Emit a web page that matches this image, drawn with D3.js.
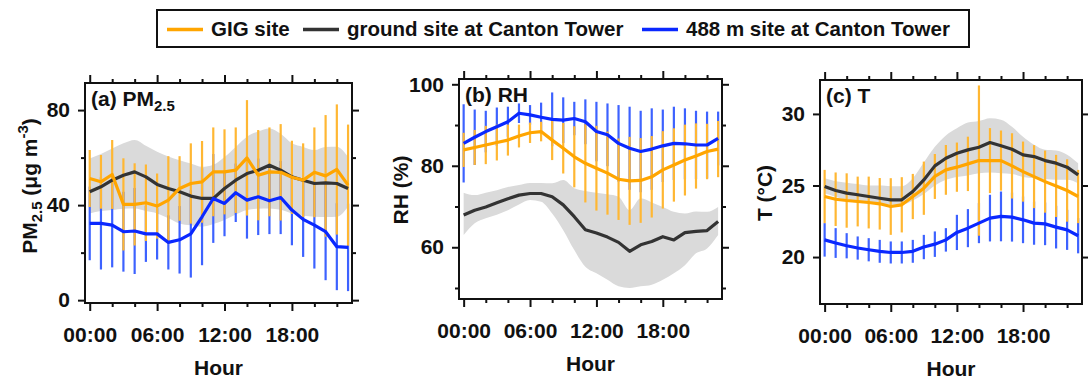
<!DOCTYPE html>
<html>
<head>
<meta charset="utf-8">
<script src="https://cdn.jsdelivr.net/npm/d3@7"></script>
<style>
  body { margin: 0; background: #fff; }
  svg { display: block; font-family: "Liberation Sans", Arial, sans-serif; font-weight: bold; }
</style>
</head>
<body>
<svg id="chart" width="1088" height="381"></svg>
<script>
const hours = d3.range(24);
const hourTicks = [0, 6, 12, 18];
const hourLabels = ["00:00", "06:00", "12:00", "18:00"];
const seriesNames = ["GIG site", "ground site at Canton Tower", "488 m site at Canton Tower"];

// (a) PM2.5
const pmGig = [51.2, 49.8, 52.9, 40.3, 40.3, 41.0, 39.6, 42.1, 47.0, 49.1, 49.8, 54.0, 54.0, 54.7, 59.9, 52.6, 54.0, 53.8, 51.7, 50.5, 53.8, 52.3, 55.0, 48.4];
const pmGigSd = [12.0, 11.3, 14.5, 19.4, 17.3, 16.1, 13.7, 18.5, 13.6, 16.9, 17.2, 18.7, 17.9, 18.0, 24.3, 19.0, 18.7, 20.3, 15.4, 15.5, 18.9, 25.6, 27.4, 25.5];
const pmGround = [45.6, 47.7, 50.5, 52.6, 54.0, 51.9, 48.7, 47.0, 45.6, 43.8, 42.8, 42.8, 47.0, 50.5, 53.3, 54.7, 56.8, 54.7, 51.9, 50.5, 49.1, 49.4, 49.1, 47.0];
const pmGroundLo = [36.5, 37.5, 37.9, 38.5, 38.6, 37.5, 36.5, 34.5, 32.3, 31.5, 30.9, 32.0, 33.7, 36.0, 37.9, 38.5, 38.6, 38.0, 36.5, 35.5, 35.1, 35.0, 35.1, 39.3];
const pmGroundHi = [59.6, 61.5, 63.8, 66.0, 67.4, 65.0, 62.5, 60.5, 58.9, 57.5, 56.1, 57.0, 60.3, 64.5, 68.8, 71.0, 72.3, 70.0, 66.0, 64.5, 63.2, 64.5, 64.6, 60.3];
const pmTower = [32.3, 32.3, 31.6, 28.8, 29.1, 27.9, 27.9, 24.3, 25.4, 27.9, 35.1, 42.8, 40.7, 45.2, 42.1, 43.5, 41.8, 43.2, 37.9, 34.0, 31.6, 28.8, 22.5, 22.2];
const pmTowerSd = [15.5, 19.4, 17.8, 16.8, 18.1, 11.8, 10.8, 11.4, 14.2, 18.4, 20.4, 18.7, 13.8, 12.3, 16.2, 16.1, 14.0, 15.4, 14.8, 15.8, 18.3, 20.4, 18.3, 18.4];

// (b) RH
const rhGig = [83.9, 84.5, 85.1, 85.7, 86.3, 87.3, 88.1, 88.4, 86.3, 84.3, 82.2, 80.6, 79.4, 78.2, 76.7, 76.3, 76.4, 77.3, 79.0, 80.2, 81.4, 82.4, 83.5, 84.1];
const rhGigSd = [4.2, 4.3, 4.7, 4.4, 3.8, 2.8, 2.5, 2.4, 4.9, 6.2, 7.5, 9.6, 10.4, 10.2, 10.0, 10.8, 10.4, 10.0, 9.5, 9.0, 8.7, 8.0, 6.8, 6.9];
const rhGround = [67.9, 69.1, 69.9, 70.9, 71.9, 72.8, 73.2, 73.2, 72.4, 70.4, 67.5, 64.3, 63.5, 62.5, 61.2, 59.0, 60.6, 61.4, 62.6, 61.8, 63.6, 63.9, 64.1, 66.3];
const rhGroundLo = [63.0, 65.9, 67.1, 68.0, 69.1, 70.5, 71.6, 71.2, 68.3, 64.2, 59.3, 55.2, 53.6, 52.0, 50.4, 50.0, 50.4, 50.8, 52.0, 53.6, 55.6, 58.5, 59.7, 63.0];
const rhGroundHi = [73.4, 72.8, 73.4, 74.0, 74.8, 75.3, 75.8, 75.8, 75.7, 76.5, 74.5, 73.8, 73.4, 73.0, 72.4, 69.1, 72.0, 71.0, 69.9, 68.7, 68.3, 68.8, 68.7, 69.9];
const rhTower = [85.5, 87.0, 88.4, 89.6, 90.8, 92.9, 92.5, 91.9, 91.4, 91.2, 91.6, 90.8, 88.4, 87.6, 85.5, 84.3, 83.5, 84.1, 84.9, 85.5, 85.4, 85.1, 85.1, 86.7];
const rhTowerSd = [9.6, 6.8, 5.1, 4.7, 3.7, 2.4, 2.4, 3.6, 6.6, 5.6, 4.1, 5.5, 7.3, 7.7, 9.4, 10.2, 10.0, 10.0, 8.9, 9.0, 8.7, 8.4, 8.2, 6.6];

// (c) T
const tGig = [24.23, 24.04, 23.95, 23.88, 23.81, 23.72, 23.53, 23.65, 24.23, 24.81, 25.63, 26.09, 26.28, 26.51, 26.74, 26.74, 26.74, 26.37, 25.97, 25.62, 25.27, 24.97, 24.65, 24.23];
const tGigSd = [1.86, 1.87, 1.9, 1.74, 1.81, 1.8, 1.98, 1.93, 1.58, 1.86, 1.57, 1.74, 1.72, 1.9, 5.25, 2.27, 2.1, 2.28, 2.1, 2.2, 2.17, 2.17, 2.18, 1.86];
const tGround = [24.93, 24.65, 24.47, 24.35, 24.23, 24.11, 24.0, 24.0, 24.58, 25.39, 26.37, 26.9, 27.25, 27.49, 27.67, 28.0, 27.77, 27.53, 27.14, 27.02, 26.74, 26.56, 26.28, 25.74];
const tGroundLo = [24.45, 24.2, 24.0, 23.9, 23.8, 23.7, 23.65, 23.65, 23.95, 24.4, 25.0, 25.4, 25.6, 25.7, 25.85, 25.9, 25.85, 25.8, 25.6, 25.5, 25.45, 25.4, 25.4, 25.15];
const tGroundHi = [25.5, 25.3, 25.2, 25.1, 25.0, 25.0, 24.95, 24.95, 25.5, 26.6, 27.7, 28.5, 29.0, 29.4, 29.5, 29.7, 29.6, 29.1, 28.4, 27.85, 27.5, 27.45, 27.15, 26.55];
const tTower = [21.2, 20.98, 20.79, 20.63, 20.51, 20.4, 20.32, 20.32, 20.4, 20.7, 20.9, 21.2, 21.72, 22.02, 22.37, 22.72, 22.84, 22.79, 22.6, 22.37, 22.32, 22.09, 21.9, 21.49];
const tTowerSd = [1.17, 1.04, 0.88, 0.81, 0.81, 0.8, 0.77, 0.77, 0.8, 0.85, 0.89, 0.82, 1.23, 1.33, 1.4, 1.63, 1.74, 1.71, 1.63, 1.51, 1.49, 1.49, 1.4, 1.23];

const colors = { gig: "#ffa500", ground: "#333333", tower: "#0a28ff" };
const barColors = { gig: "#ffb733", tower: "#3d62ff" };
const fontSize = 21;

const svg = d3.select("#chart");

const panels = [
  {
    title: "(a) PM", titleSub: "2.5",
    frame: { x0: 85, x1: 352, y0: 83, y1: 303 },
    yDomain: [-1.2, 91.4], yMajor: [0, 40, 80], yMinor: [20, 60],
    gig: pmGig, gigSd: pmGigSd, ground: pmGround, lo: pmGroundLo, hi: pmGroundHi, tower: pmTower, towerSd: pmTowerSd,
    ylabel: "pm", ylabelX: 37, ylabelDy: -7
  },
  {
    title: "(b) RH",
    frame: { x0: 459, x1: 722, y0: 79, y1: 299 },
    yDomain: [47.3, 101.3], yMajor: [60, 80, 100], yMinor: [50, 70, 90],
    gig: rhGig, gigSd: rhGigSd, ground: rhGround, lo: rhGroundLo, hi: rhGroundHi, tower: rhTower, towerSd: rhTowerSd,
    ylabel: "RH (%)", ylabelX: 408, ylabelDy: 1
  },
  {
    title: "(c) T",
    frame: { x0: 820, x1: 1082, y0: 80, y1: 304 },
    yDomain: [16.72, 32.37], yMajor: [20, 25, 30], yMinor: [],
    gig: tGig, gigSd: tGigSd, ground: tGround, lo: tGroundLo, hi: tGroundHi, tower: tTower, towerSd: tTowerSd,
    ylabel: "T (°C)", ylabelX: 772, ylabelDy: 1
  }
];

panels.forEach(drawPanel);
drawLegend();

function drawPanel(p) {
  const f = p.frame;
  const x = d3.scaleLinear().domain([-0.42, 23.35]).range([f.x0, f.x1]);
  const y = d3.scaleLinear().domain(p.yDomain).range([f.y1, f.y0]);
  const g = svg.append("g");

  const clipId = "clip" + f.x0;
  g.append("clipPath").attr("id", clipId)
    .append("rect").attr("x", f.x0).attr("y", f.y0)
    .attr("width", f.x1 - f.x0).attr("height", f.y1 - f.y0);
  const plot = g.append("g").attr("clip-path", `url(#${clipId})`);

  // ground site band
  const area = d3.area()
    .x(h => x(h))
    .y0(h => y(p.lo[h]))
    .y1(h => y(p.hi[h]))
    .curve(d3.curveMonotoneX);
  plot.append("path").datum(hours).attr("d", area).attr("fill", "#dadada");

  // error bars: tower below GIG
  [["tower", p.tower, p.towerSd], ["gig", p.gig, p.gigSd]].forEach(([key, vals, sd]) => {
    plot.append("g").selectAll("line")
      .data(hours)
      .join("line")
      .attr("x1", h => x(h)).attr("x2", h => x(h))
      .attr("y1", h => y(vals[h] - sd[h]))
      .attr("y2", h => y(vals[h] + sd[h]))
      .attr("stroke", barColors[key])
      .attr("stroke-width", 2.2);
  });

  const line = vals => d3.line().x(h => x(h)).y(h => y(vals[h]))(hours);
  [["ground", p.ground], ["gig", p.gig], ["tower", p.tower]].forEach(([key, vals]) => {
    plot.append("path")
      .attr("d", line(vals))
      .attr("fill", "none")
      .attr("stroke", colors[key])
      .attr("stroke-width", 3.2)
      .attr("stroke-linejoin", "round");
  });

  // frame
  g.append("rect")
    .attr("x", f.x0).attr("y", f.y0)
    .attr("width", f.x1 - f.x0).attr("height", f.y1 - f.y0)
    .attr("fill", "none").attr("stroke", "#111").attr("stroke-width", 2);

  // axes
  const minorHours = d3.range(0, 24, 2).filter(h => !hourTicks.includes(h));
  const axes = [
    [d3.axisBottom(x).tickValues(hourTicks).tickSize(8).tickFormat((d, i) => hourLabels[i]), `translate(0,${f.y1})`, "bottom"],
    [d3.axisBottom(x).tickValues(minorHours).tickSize(4).tickFormat(""), `translate(0,${f.y1})`, ""],
    [d3.axisTop(x).tickValues(hourTicks).tickSize(8).tickFormat(""), `translate(0,${f.y0})`, ""],
    [d3.axisTop(x).tickValues(minorHours).tickSize(4).tickFormat(""), `translate(0,${f.y0})`, ""],
    [d3.axisLeft(y).tickValues(p.yMajor).tickSize(7).tickPadding(8), `translate(${f.x0},0)`, "left"],
    [d3.axisLeft(y).tickValues(p.yMinor).tickSize(4).tickFormat(""), `translate(${f.x0},0)`, ""],
    [d3.axisRight(y).tickValues(p.yMajor).tickSize(7).tickFormat(""), `translate(${f.x1},0)`, ""],
    [d3.axisRight(y).tickValues(p.yMinor).tickSize(4).tickFormat(""), `translate(${f.x1},0)`, ""]
  ];
  axes.forEach(([axis, tr, side]) => {
    const a = g.append("g").attr("transform", tr).call(axis);
    a.select(".domain").remove();
    a.selectAll(".tick line").attr("stroke", "#111").attr("stroke-width", 2);
    a.selectAll("text")
      .attr("font-family", "'Liberation Sans', Arial, sans-serif")
      .attr("font-weight", "bold")
      .attr("font-size", fontSize)
      .attr("fill", "#111");
    if (side === "bottom") a.selectAll("text").attr("dy", null).attr("y", 39);
  });

  // x label
  g.append("text")
    .attr("x", (f.x0 + f.x1) / 2).attr("y", f.y1 + 72)
    .attr("text-anchor", "middle").attr("font-size", fontSize).attr("fill", "#111")
    .text("Hour");

  // panel title
  const t = g.append("text")
    .attr("x", f.x0 + 6).attr("y", f.y0 + 23)
    .attr("font-size", fontSize).attr("fill", "#111")
    .text(p.title);
  if (p.titleSub) {
    t.append("tspan").attr("font-size", 15).attr("dy", 5).text(p.titleSub);
  }

  // y label
  const cy = (f.y0 + f.y1) / 2 + p.ylabelDy;
  const yl = g.append("text")
    .attr("transform", `translate(${p.ylabelX},${cy}) rotate(-90)`)
    .attr("text-anchor", "middle").attr("font-size", fontSize).attr("fill", "#111");
  if (p.ylabel === "pm") {
    yl.append("tspan").text("PM");
    yl.append("tspan").attr("font-size", 15).attr("dy", 5).text("2.5");
    yl.append("tspan").attr("dy", -5).text(" (\u03bcg m");
    yl.append("tspan").attr("font-size", 15).attr("dy", -9).text("-3");
    yl.append("tspan").attr("dy", 9).text(")");
  } else {
    yl.text(p.ylabel);
  }
}

function drawLegend() {
  const g = svg.append("g");
  g.append("rect")
    .attr("x", 157).attr("y", 10).attr("width", 812).attr("height", 37)
    .attr("fill", "#fff").attr("stroke", "#111").attr("stroke-width", 2);
  const keys = ["gig", "ground", "tower"];
  const sampleX = [167, 303, 642];
  keys.forEach((k, i) => {
    g.append("line")
      .attr("x1", sampleX[i]).attr("x2", sampleX[i] + 36)
      .attr("y1", 29.5).attr("y2", 29.5)
      .attr("stroke", colors[k]).attr("stroke-width", 3.5);
    g.append("text")
      .attr("x", sampleX[i] + 44).attr("y", 36)
      .attr("font-size", 20.5).attr("fill", "#111")
      .text(seriesNames[i]);
  });
}
</script>
</body>
</html>
